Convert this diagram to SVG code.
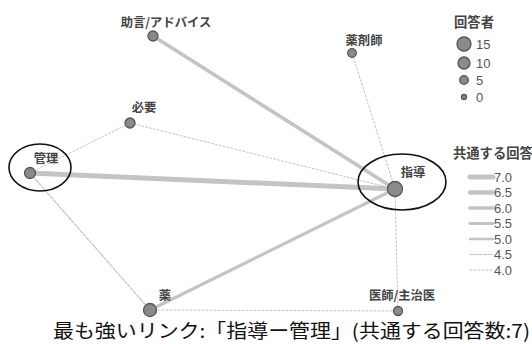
<svg xmlns="http://www.w3.org/2000/svg" width="532" height="344" viewBox="0 0 532 344">
<style>
.bg{fill:#fff}
.e{stroke:#c4c4c4;fill:none;stroke-linecap:round}
.w70{stroke-width:5}
.w65{stroke-width:4.3}
.w60{stroke-width:3.7}
.w55{stroke-width:3.1}
.w50{stroke-width:2.5}
.w45{stroke-width:1.2;stroke-dasharray:3 1.5}
.w40{stroke-width:1;stroke-dasharray:2 2}
.n{fill:#8a8a8a;stroke:#555;stroke-width:1.3}
.lb{font-family:"Noto Sans CJK JP","Liberation Sans",sans-serif;font-size:12.3px;font-weight:bold;fill:#444}
.tt{font-family:"Noto Sans CJK JP","Liberation Sans",sans-serif;font-size:13.3px;font-weight:bold;fill:#444}
.lg{font-family:"Liberation Sans","Noto Sans CJK JP",sans-serif;font-size:13px;fill:#555}
.ring{fill:none;stroke:#111;stroke-width:1.6}
.cap{font-family:"Noto Sans CJK JP",sans-serif;font-size:19px;fill:#111}
</style>
<rect class="bg" x="0" y="0" width="532" height="344"/>
<g id="connectors">
<line class="e w40" x1="30" y1="173" x2="130" y2="123"/>
<line class="e w40" x1="130" y1="123" x2="395" y2="189"/>
<line class="e w40" x1="352" y1="53" x2="395" y2="189"/>
<line class="e w40" x1="395" y1="189" x2="398" y2="311"/>
<line class="e w40" x1="150" y1="310" x2="398" y2="311"/>
<line class="e w45" x1="30" y1="173" x2="150" y2="310"/>
<line class="e w60" x1="153" y1="36" x2="395" y2="189"/>
<line class="e w55" x1="150" y1="310" x2="395" y2="189"/>
<line class="e w70" x1="30" y1="173" x2="395" y2="189"/>
</g>
<g id="node-jogen">
<circle class="n" cx="153" cy="36" r="5"/>
<text class="lb" x="166" y="27" text-anchor="middle">助言/アドバイス</text>
</g>
<g id="node-hitsuyo">
<circle class="n" cx="130" cy="123" r="5"/>
<text class="lb" x="144" y="112" text-anchor="middle">必要</text>
</g>
<g id="node-kanri">
<circle class="n" cx="30" cy="173" r="5.5"/>
<text class="lb" x="46" y="163" text-anchor="middle">管理</text>
<ellipse class="ring" cx="40" cy="167.5" rx="31" ry="23.5"/>
</g>
<g id="node-yakuzaishi">
<circle class="n" cx="352" cy="53" r="4.3"/>
<text class="lb" x="364" y="45" text-anchor="middle">薬剤師</text>
</g>
<g id="node-shido">
<circle class="n" cx="395" cy="189" r="7.5"/>
<text class="lb" x="413" y="177" text-anchor="middle">指導</text>
<ellipse class="ring" cx="402" cy="182" rx="44" ry="28"/>
</g>
<g id="node-kusuri">
<circle class="n" cx="150" cy="310" r="6.5"/>
<text class="lb" x="165" y="300" text-anchor="middle">薬</text>
</g>
<g id="node-ishi">
<circle class="n" cx="398" cy="311" r="4.5"/>
<text class="lb" x="402" y="300" text-anchor="middle">医師/主治医</text>
</g>
<g id="legend-size">
<text class="tt" x="474" y="27" text-anchor="middle">回答者</text>
<circle class="n" cx="464" cy="44" r="7"/>
<circle class="n" cx="464" cy="63" r="6"/>
<circle class="n" cx="464" cy="80" r="4.3"/>
<circle class="n" cx="464" cy="97" r="2.5"/>
<text class="lg" x="476" y="49">15</text>
<text class="lg" x="476" y="68">10</text>
<text class="lg" x="476" y="85">5</text>
<text class="lg" x="476" y="102">0</text>
</g>
<g id="legend-width">
<text class="tt" x="453" y="158">共通する回答</text>
<line class="e w70" x1="470" y1="177" x2="493" y2="177"/>
<line class="e w65" x1="470" y1="192.5" x2="493" y2="192.5"/>
<line class="e w60" x1="470" y1="208" x2="493" y2="208"/>
<line class="e w55" x1="470" y1="223.5" x2="493" y2="223.5"/>
<line class="e w50" x1="470" y1="239" x2="493" y2="239"/>
<line class="e w45" x1="470" y1="254.5" x2="493" y2="254.5"/>
<line class="e w40" x1="470" y1="270" x2="493" y2="270"/>
<text class="lg" x="494" y="181.5">7.0</text>
<text class="lg" x="494" y="197">6.5</text>
<text class="lg" x="494" y="212.5">6.0</text>
<text class="lg" x="494" y="228">5.5</text>
<text class="lg" x="494" y="243.5">5.0</text>
<text class="lg" x="494" y="259">4.5</text>
<text class="lg" x="494" y="274.5">4.0</text>
</g>
<text class="cap" x="53" y="338" textLength="477" lengthAdjust="spacingAndGlyphs">最も強いリンク:「指導ー管理」(共通する回答数:7)</text>
</svg>
